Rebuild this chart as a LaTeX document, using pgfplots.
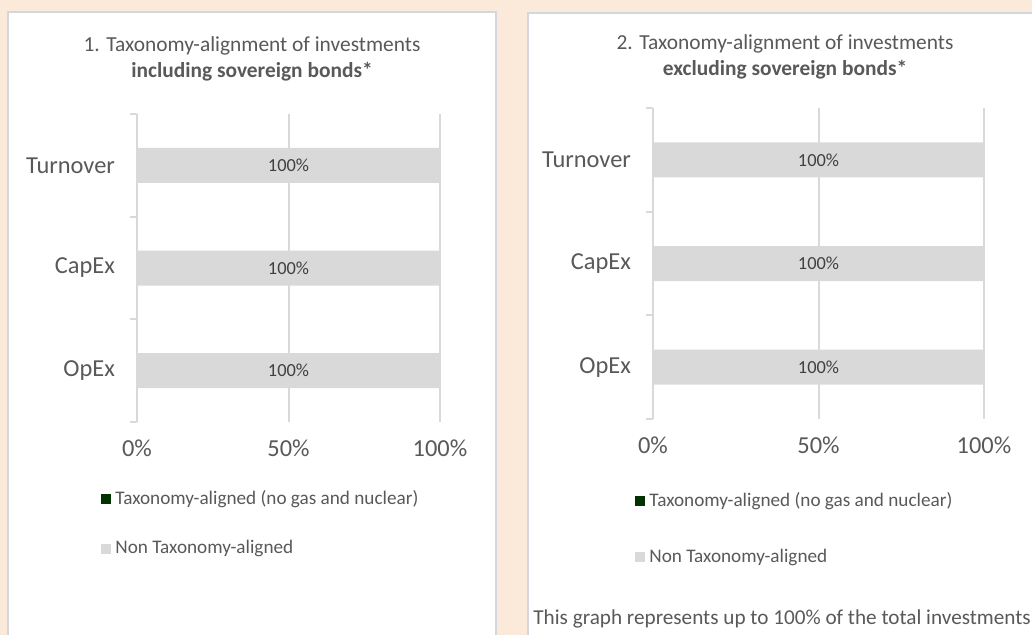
\documentclass[border=0pt]{standalone}
\usepackage{fontspec}
\setmainfont{Carlito}
\usepackage{pgfplots}
\pgfplotsset{compat=1.18}
\definecolor{pageBg}{HTML}{FBE9D9}
\definecolor{panelEdge}{HTML}{D3D6DC}
\definecolor{barGrey}{HTML}{D9D9D9}
\definecolor{txt}{HTML}{595959}
\definecolor{valTxt}{HTML}{404040}
\definecolor{aligned}{HTML}{003300}

% shared look of both panels
\pgfplotsset{
  taxo/.style={
    xbar stacked, bar width=17.5pt,
    scale only axis,
    xmin=0, xmax=100, ymin=-0.5, ymax=2.5,
    xtick={0,50,100}, xticklabels={0\%,50\%,100\%},
    ytick={0,1,2}, yticklabels={OpEx,CapEx,Turnover},
    minor ytick={-0.5,0.5,1.5,2.5},
    axis y line*=left, axis x line*=bottom,
    x axis line style={draw=none},
    y axis line style={draw=barGrey, line width=1pt, -},
    xmajorgrids, major grid style={draw=barGrey, line width=1pt},
    tick align=outside, major tick length=0pt, minor tick length=3.5pt,
    every minor tick/.append style={draw=barGrey, line width=1pt},
    tick label style={font=\fontsize{12.2}{14}\selectfont, text=txt},
    xticklabel style={yshift=-5.5pt},
    yticklabel style={xshift=-7.5pt},
    legend style={draw=none, fill=none, inner sep=0pt,
      font=\fontsize{9.6}{11.5}\selectfont, text=txt,
      cells={anchor=west}, row sep=12.5pt},
    legend image code/.code={\fill[#1] (0pt,-2.5pt) rectangle (5pt,2.5pt);},
  },
}

\begin{document}
\begin{tikzpicture}[x=0.5pt, y=-0.5pt]
\path[use as bounding box] (0,0) rectangle (1032,635);
\clip (0,0) rectangle (1032,635);
\fill[pageBg] (0,0) rectangle (1032,635);
\draw[panelEdge, fill=white, line width=1pt] (8,12) rectangle (496,650);
\draw[panelEdge, fill=white, line width=1pt] (528,13) rectangle (1050,650);

% titles
\node[anchor=base, text=txt, font=\fontsize{10.7}{12.5}\selectfont] at (252,52) {1. Taxonomy-alignment of investments};
\node[anchor=base, text=txt, font=\fontsize{10.7}{12.5}\selectfont\bfseries] at (252,78) {including sovereign bonds*};
\node[anchor=base, text=txt, font=\fontsize{10.7}{12.5}\selectfont] at (785,50) {2. Taxonomy-alignment of investments};
\node[anchor=base, text=txt, font=\fontsize{10.7}{12.5}\selectfont\bfseries] at (785,76) {excluding sovereign bonds*};
\node[anchor=base west, inner sep=0pt, text=txt, font=\fontsize{10.6}{13}\selectfont] at (533,624) {This graph represents up to 100\% of the total investments};

% panel 1
\begin{axis}[taxo, at={(68.5pt,-211pt)}, anchor=south west,
  width=151.5pt, height=154pt,
  legend style={at={(-0.1188,-0.3295)}, anchor=west}]
\addplot[fill=aligned, draw=none] coordinates {(0,0) (0,1) (0,2)};
\addplot[fill=barGrey, draw=none, nodes near coords={100\%},
  every node near coord/.append style={anchor=center,
    font=\fontsize{9.2}{10}\selectfont, text=valTxt}]
  coordinates {(100,0) (100,1) (100,2)};
\legend{Taxonomy-aligned (no gas and nuclear), Non Taxonomy-aligned}
\end{axis}

% panel 2
\begin{axis}[taxo, at={(326.5pt,-209.5pt)}, anchor=south west,
  width=165.5pt, height=155.5pt,
  legend style={at={(-0.0544,-0.3537)}, anchor=west, row sep=15.5pt}]
\addplot[fill=aligned, draw=none] coordinates {(0,0) (0,1) (0,2)};
\addplot[fill=barGrey, draw=none, nodes near coords={100\%},
  every node near coord/.append style={anchor=center,
    font=\fontsize{9.2}{10}\selectfont, text=valTxt}]
  coordinates {(100,0) (100,1) (100,2)};
\legend{Taxonomy-aligned (no gas and nuclear), Non Taxonomy-aligned}
\end{axis}
\end{tikzpicture}
\end{document}
